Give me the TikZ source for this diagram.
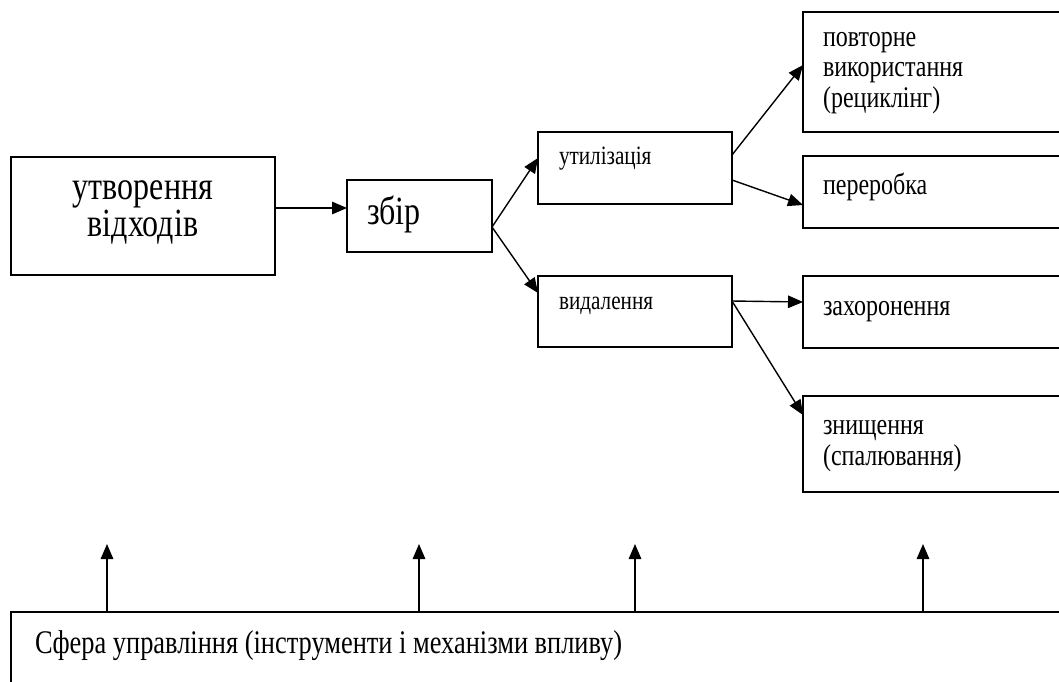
\documentclass[tikz,border=0pt]{standalone}
\usepackage{fontspec}
\setmainfont{Liberation Serif}[FakeStretch=0.8]
\usetikzlibrary{arrows.meta,calc}
\begin{document}
\begin{tikzpicture}[x=1pt,y=-1pt,
  box/.style={draw=black,line width=1.5pt,inner sep=0pt,outer sep=0pt,fill=none},
  conn/.style={line width=1.4pt,-{Triangle[length=15pt,width=12.5pt]}},
  txt/.style={inner sep=0pt,outer sep=0pt,anchor=base west,align=left},
  big/.style={font=\fontsize{40}{35}\selectfont},
  mid/.style={font=\fontsize{26.5}{30}\selectfont},
  rgt/.style={font=\fontsize{30}{30.5}\selectfont},
  bot/.style={font=\fontsize{33}{36}\selectfont}]
\useasboundingbox (0,0) rectangle (1059,681);
\clip (0,0) rectangle (1059,681);
% boxes
\node[box,minimum width=264pt,minimum height=118pt] (gen) at (143,216) {};
\node[box,minimum width=145pt,minimum height=72pt] (zbir) at (419.5,216) {};
\node[box,minimum width=194pt,minimum height=72pt] (util) at (635,168) {};
\node[box,minimum width=194pt,minimum height=71pt] (vyd) at (635,311.5) {};
\node[box,minimum width=277pt,minimum height=120pt] (povt) at (941.5,72) {};
\node[box,minimum width=277pt,minimum height=72pt] (perer) at (941.5,192) {};
\node[box,minimum width=277pt,minimum height=72pt] (zakh) at (941.5,312) {};
\node[box,minimum width=277pt,minimum height=96pt] (znysh) at (941.5,444) {};
\node[box,minimum width=1069pt,minimum height=88pt] (sfera) at (545.5,656) {};
% texts (base anchor = baseline of the last line)
\node[inner sep=0pt,anchor=base,align=center,big] (tgen) at (143,236) {утворення\\відходів};
\node[txt,big] (tzbir) at (367,224) {збір};
\node[txt,mid] (tutil) at (559,164) {утилізація};
\node[txt,mid] (tvyd) at (559,309) {видалення};
\node[txt,rgt] (tpovt) at (823,107) {повторне\\використання\\(рециклінг)};
\node[txt,rgt] (tperer) at (823,194) {переробка};
\node[txt,rgt] (tzakh) at (823,315) {захоронення};
\node[txt,rgt] (tznysh) at (823,465) {знищення\\(спалювання)};
\node[txt,bot] (tsfera) at (35,653) {Сфера управління (інструменти і механізми впливу)};
% connectors
\draw[conn] ([yshift=8pt]gen.east) -- ([yshift=8pt]zbir.west);
\draw[conn] ([yshift=-11pt]zbir.east) -- ([yshift=10pt]util.west);
\draw[conn] ([yshift=-11pt]zbir.east) -- ([yshift=18.5pt]vyd.west);
\draw[conn] ([yshift=13pt]util.east) -- ([yshift=7pt]povt.west);
\draw[conn] ([yshift=-12pt]util.east) -- ([yshift=-13pt]perer.west);
\draw[conn] ([yshift=10.5pt]vyd.east) -- ([yshift=10pt]zakh.west);
\draw[conn] ([yshift=10.5pt]vyd.east) -- ([yshift=29pt]znysh.west);
\coordinate (t1) at (107,544);
\coordinate (t2) at (419,544);
\coordinate (t3) at (635,544);
\coordinate (t4) at (923,544);
\foreach \t in {t1,t2,t3,t4}
  \draw[conn] (sfera.north -| \t) -- (\t);
\end{tikzpicture}
\end{document}
